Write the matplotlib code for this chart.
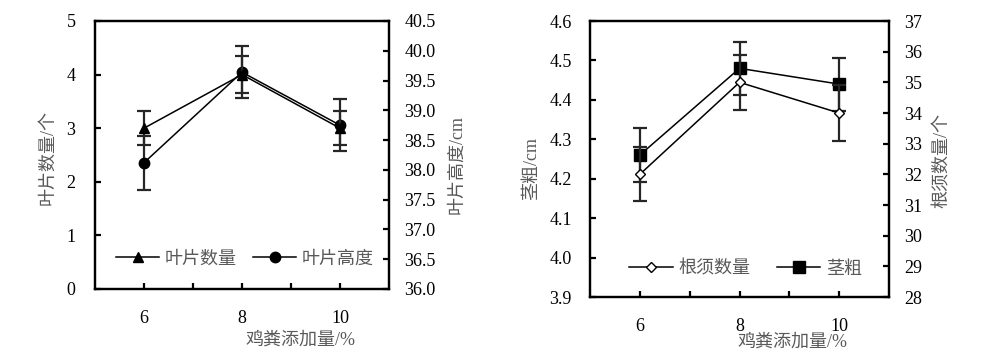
import matplotlib
matplotlib.use('Agg')
import matplotlib.pyplot as plt
from matplotlib.lines import Line2D

plt.rcParams['font.family'] = ['Liberation Serif', 'Noto Sans CJK SC']
plt.rcParams['font.size'] = 13

# 数据
manure = [6, 8, 10]  # 鸡粪添加量/%
leaf_num = [3.0, 4.0, 3.0]
leaf_num_err = [0.32, 0.34, 0.32]
leaf_height = [38.12, 39.64, 38.75]
leaf_height_err = [0.45, 0.44, 0.44]
stem = [4.26, 4.48, 4.44]
stem_err = [0.068, 0.068, 0.067]
root_num = [32.0, 35.0, 34.0]
root_num_err = [0.88, 0.9, 0.9]

x_ticks = [6, 7, 8, 9, 10]
x_tick_labels = ['6', '', '8', '', '10']

TXT = '#595959'
ERR = '#262626'


# 坐标轴样式
def style_axis(ax, ylim, yticks, yfmt, left_pad, right_pad, side):
    ax.set_xlim(5, 11)
    ax.set_ylim(*ylim)
    ax.set_yticks(yticks)
    ax.set_yticklabels([yfmt % v for v in yticks])
    ax.set_xticks(x_ticks)
    ax.set_xticklabels(x_tick_labels)
    for s in ax.spines.values():
        s.set_linewidth(1.6)
    ax.tick_params(axis='both', direction='in', length=4, width=1.6, colors='black', labelsize=13)
    ax.tick_params(axis='x', pad=15)
    if side == 'left':
        ax.tick_params(axis='y', pad=left_pad)
    else:
        ax.tick_params(axis='y', pad=right_pad)


def draw_series(ax, y, err, marker, size, face, zorder):
    ax.errorbar(manure, y, yerr=err, fmt='none', ecolor=ERR, elinewidth=1.6,
                capsize=5, capthick=1.6, zorder=zorder)
    ax.plot(manure, y, color='black', lw=1.1, marker=marker, markersize=size,
            markerfacecolor=face, markeredgecolor='black', markeredgewidth=1.0, zorder=zorder + 1)


fig = plt.figure(figsize=(10, 3.63), dpi=100)

# 左图：叶片数量 与 叶片高度
ax1 = fig.add_axes([0.095, 0.2039, 0.294, 0.7383])
ax1b = ax1.twinx()
style_axis(ax1, (0, 5), [0, 1, 2, 3, 4, 5], '%d', 14, 11, 'left')
style_axis(ax1b, (36, 40.5), [36 + 0.5 * i for i in range(10)], '%.1f', 14, 11, 'right')
ax1.set_zorder(2)
ax1b.set_zorder(1)
ax1.patch.set_visible(False)
draw_series(ax1, leaf_num, leaf_num_err, '^', 7, 'black', 3)
draw_series(ax1b, leaf_height, leaf_height_err, 'o', 7.5, 'black', 3)
h1 = [Line2D([], [], color='black', lw=1.1, marker='^', markersize=7),
      Line2D([], [], color='black', lw=1.1, marker='o', markersize=7.5)]
leg = ax1.legend(h1, ['叶片数量', '叶片高度'], ncol=2, frameon=False, loc='center',
                 bbox_to_anchor=(0.51, 0.112), handlelength=2.4, handletextpad=0.3,
                 columnspacing=0.9, fontsize=13)
for t in leg.get_texts():
    t.set_color(TXT)

# 右图：根须数量 与 茎粗
ax2 = fig.add_axes([0.590, 0.1818, 0.299, 0.7603])
ax2b = ax2.twinx()
style_axis(ax2, (3.9, 4.6), [3.9 + 0.1 * i for i in range(8)], '%.1f', 13, 11, 'left')
style_axis(ax2b, (28, 37), list(range(28, 38)), '%d', 13, 11, 'right')
draw_series(ax2, stem, stem_err, 's', 8, 'black', 3)
draw_series(ax2b, root_num, root_num_err, 'D', 5, 'white', 3)
h2 = [Line2D([], [], color='black', lw=1.1, marker='D', markersize=5, markerfacecolor='white'),
      Line2D([], [], color='black', lw=1.1, marker='s', markersize=8)]
leg2 = ax2b.legend(h2, ['根须数量', '茎粗'], ncol=2, frameon=False, loc='center',
                   bbox_to_anchor=(0.52, 0.101), handlelength=2.4, handletextpad=0.3,
                   columnspacing=1.5, fontsize=13)
for t in leg2.get_texts():
    t.set_color(TXT)

# 轴标题
fig.text(0.048, 1 - 158 / 363, '叶片数量/个', rotation=90, ha='center', va='center', color=TXT, fontsize=13)
fig.text(0.457, 1 - 164 / 363, '叶片高度/cm', rotation=90, ha='center', va='center', color=TXT, fontsize=13)
fig.text(0.300, 1 - 340 / 363, '鸡粪添加量/%', ha='center', va='center', color=TXT, fontsize=13)
fig.text(0.532, 1 - 169 / 363, '茎粗/cm', rotation=90, ha='center', va='center', color=TXT, fontsize=13)
fig.text(0.942, 1 - 160 / 363, '根须数量/个', rotation=90, ha='center', va='center', color=TXT, fontsize=13)
fig.text(0.792, 1 - 342 / 363, '鸡粪添加量/%', ha='center', va='center', color=TXT, fontsize=13)

plt.savefig('out.png', dpi=100)
